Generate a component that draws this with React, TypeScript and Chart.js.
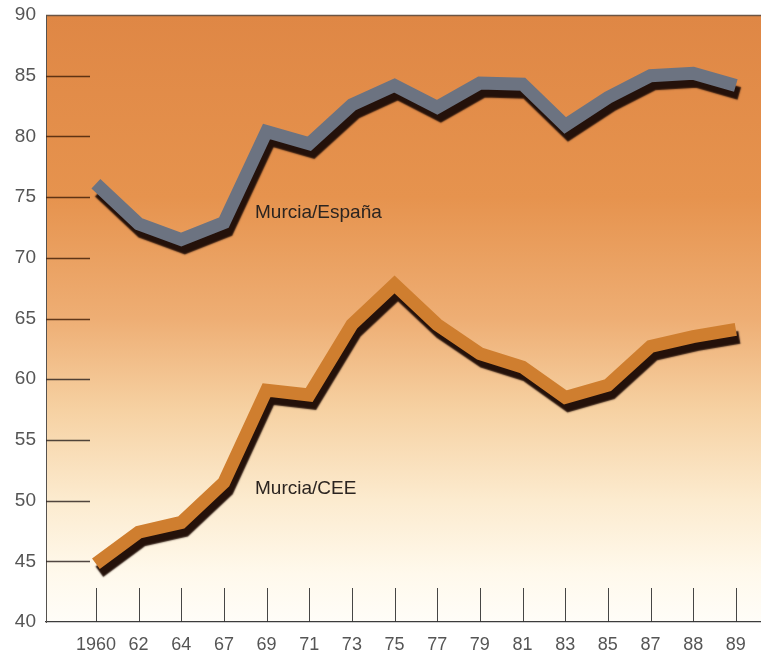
import React, { useEffect, useRef } from 'react';
import { Chart, registerables } from 'chart.js';

Chart.register(...registerables);

// ---- data ----
const YEAR_LABELS = ['1960', '62', '64', '67', '69', '71', '73', '75', '77', '79', '81', '83', '85', '87', '88', '89'];
const MURCIA_ESPANA = [76.1, 72.8, 71.5, 72.9, 80.4, 79.4, 82.6, 84.2, 82.4, 84.4, 84.3, 80.9, 83.2, 85.0, 85.2, 84.2];
const MURCIA_CEE = [44.8, 47.4, 48.2, 51.5, 59.1, 58.7, 64.5, 67.8, 64.5, 62.1, 61.0, 58.5, 59.5, 62.7, 63.5, 64.1];
const SERIES_NAMES = ['Murcia/España', 'Murcia/CEE'];
const Y_MIN = 40;
const Y_MAX = 90;
const Y_STEP = 5;

// label anchors in data coordinates (index, value)
const LABEL_ANCHORS = [
  { text: SERIES_NAMES[0], x: 3.73, y: 73.7 },
  { text: SERIES_NAMES[1], x: 3.73, y: 50.95 },
];

const FONT = '"Liberation Sans", Arial, Helvetica, sans-serif';

const backgroundPlugin = {
  id: 'bgGradient',
  beforeDraw(chart: any) {
    const { ctx, chartArea } = chart;
    if (!chartArea) return;
    const { left, top, right, bottom } = chartArea;
    ctx.save();
    ctx.fillStyle = '#ffffff';
    ctx.fillRect(0, 0, chart.width, chart.height);
    const g = ctx.createLinearGradient(0, top, 0, bottom);
    g.addColorStop(0, '#df8745');
    g.addColorStop(0.3, '#e6934e');
    g.addColorStop(0.5, '#eeae74');
    g.addColorStop(0.65, '#f6d1a2');
    g.addColorStop(0.8, '#fcebcf');
    g.addColorStop(0.92, '#fff9ec');
    g.addColorStop(1, '#fffdf8');
    ctx.fillStyle = g;
    ctx.fillRect(left, top, right - left, bottom - top);
    // top border
    ctx.strokeStyle = '#6b5444';
    ctx.lineWidth = 1.5;
    ctx.beginPath();
    ctx.moveTo(left, top + 0.5);
    ctx.lineTo(right, top + 0.5);
    ctx.stroke();
    ctx.restore();
  },
  beforeDatasetsDraw(chart: any) {
    const { ctx, chartArea, scales } = chart;
    const xs = scales.x;
    const ys = scales.y;
    ctx.save();
    // inward y tick marks
    ctx.lineWidth = 1.3;
    for (let v = Y_MIN + Y_STEP; v < Y_MAX; v += Y_STEP) {
      const py = Math.round(ys.getPixelForValue(v)) + 0.5;
      ctx.strokeStyle = v >= 65 ? 'rgba(70,35,10,0.85)' : 'rgba(50,40,35,0.85)';
      ctx.beginPath();
      ctx.moveTo(chartArea.left, py);
      ctx.lineTo(chartArea.left + 44, py);
      ctx.stroke();
    }
    // inward x tick marks
    ctx.strokeStyle = 'rgba(50,50,50,0.9)';
    ctx.lineWidth = 1;
    YEAR_LABELS.forEach((_, i) => {
      const px = Math.round(xs.getPixelForValue(i)) + 0.5;
      ctx.beginPath();
      ctx.moveTo(px, chartArea.bottom);
      ctx.lineTo(px, chartArea.bottom - 34);
      ctx.stroke();
    });
    ctx.restore();
  },
  beforeDatasetDraw(chart: any) {
    const ctx = chart.ctx;
    const r = chart.currentDevicePixelRatio || 1;
    ctx.save();
    ctx.shadowColor = '#24110a';
    ctx.shadowOffsetX = 3.5 * r;
    ctx.shadowOffsetY = 8 * r;
    ctx.shadowBlur = 1.5 * r;
  },
  afterDatasetDraw(chart: any) {
    chart.ctx.restore();
  },
  afterDatasetsDraw(chart: any) {
    const { ctx, scales } = chart;
    ctx.save();
    ctx.font = `19px ${FONT}`;
    ctx.fillStyle = '#2b2420';
    ctx.textBaseline = 'middle';
    ctx.textAlign = 'left';
    LABEL_ANCHORS.forEach((a) => {
      ctx.fillText(a.text, scales.x.getPixelForValue(a.x), scales.y.getPixelForValue(a.y));
    });
    ctx.restore();
  },
};

export default function App() {
  const ref = useRef<HTMLCanvasElement | null>(null);

  useEffect(() => {
    if (!ref.current) return;
    const toPoints = (arr: number[]) => arr.map((y, i) => ({ x: i, y }));
    const chart = new Chart(ref.current, {
      type: 'line',
      data: {
        datasets: [
          {
            label: SERIES_NAMES[0],
            data: toPoints(MURCIA_ESPANA),
            borderColor: '#6c7381',
            borderWidth: 13,
            pointRadius: 0,
            tension: 0,
            fill: false,
            borderJoinStyle: 'miter',
            borderCapStyle: 'butt',
          },
          {
            label: SERIES_NAMES[1],
            data: toPoints(MURCIA_CEE),
            borderColor: '#cf7e2f',
            borderWidth: 13,
            pointRadius: 0,
            tension: 0,
            fill: false,
            borderJoinStyle: 'miter',
            borderCapStyle: 'butt',
          },
        ],
      },
      options: {
        animation: false,
        responsive: false,
        maintainAspectRatio: false,
        layout: { padding: { top: 15, right: 0, left: 0, bottom: 0 } },
        plugins: { legend: { display: false }, tooltip: { enabled: false } },
        scales: {
          x: {
            type: 'linear',
            min: -1.17,
            max: 15.59,
            afterBuildTicks: (s: any) => {
              s.ticks = YEAR_LABELS.map((_, i) => ({ value: i }));
            },
            afterFit: (s: any) => {
              s.height = 32;
              s.paddingLeft = 0;
              s.paddingRight = 0;
            },
            ticks: {
              autoSkip: false,
              maxRotation: 0,
              padding: 12,
              color: '#555555',
              font: { family: FONT, size: 18 },
              callback: (v: any) => YEAR_LABELS[v as number] ?? '',
            },
            grid: { display: false, drawTicks: false },
            border: { display: true, color: '#3c3c3c', width: 1.3 },
          },
          y: {
            type: 'linear',
            min: Y_MIN,
            max: Y_MAX,
            afterFit: (s: any) => {
              s.width = 46;
              s.paddingTop = 0;
              s.paddingBottom = 0;
            },
            ticks: {
              stepSize: Y_STEP,
              padding: 10,
              color: '#555555',
              font: { family: FONT, size: 19 },
            },
            grid: { display: false, drawTicks: false },
            border: { display: true, color: '#55524f', width: 1 },
          },
        },
      },
      plugins: [backgroundPlugin],
    } as any);
    return () => chart.destroy();
  }, []);

  return (
    <div style={{ position: 'fixed', left: 0, top: 0, width: 761, height: 654, background: '#fff' }}>
      <canvas ref={ref} width={761} height={654} />
    </div>
  );
}
